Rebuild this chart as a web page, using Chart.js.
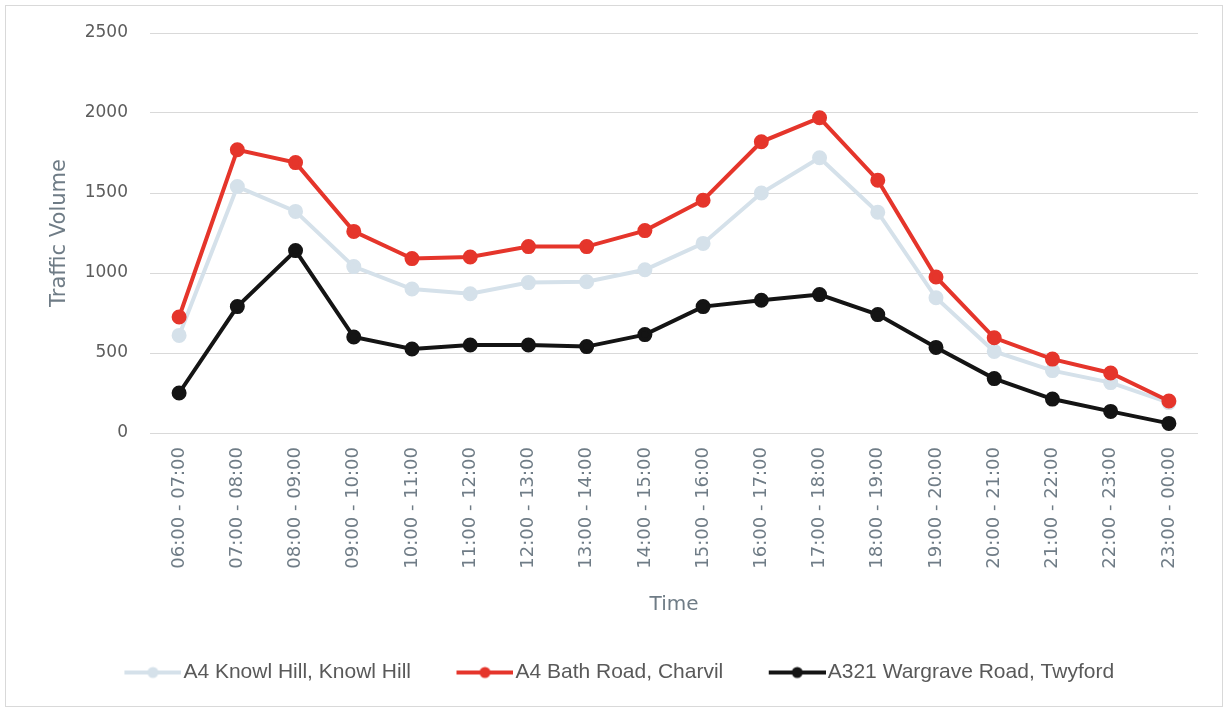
<!DOCTYPE html>
<html>
<head>
<meta charset="utf-8">
<title>Hourly traffic volume</title>
<script src="https://cdn.jsdelivr.net/npm/chart.js@4.4.1/dist/chart.umd.min.js"></script>
<style>
  html, body { margin: 0; padding: 0; background: #ffffff; overflow: hidden; }
  #wrap { position: relative; width: 1228px; height: 711px; }
  #frame { position: absolute; left: 5px; top: 5px; width: 1218px; height: 702px;
           border: 1px solid #d9d9d9; box-sizing: border-box; pointer-events: none; }
  canvas { position: absolute; left: 0; top: 0; }
</style>
</head>
<body>
<div id="wrap">
  <canvas id="chart" width="1228" height="711"></canvas>
  <div id="frame"></div>
</div>
<script>
// Hourly bands
const hours = [
  '06:00 - 07:00', '07:00 - 08:00', '08:00 - 09:00', '09:00 - 10:00',
  '10:00 - 11:00', '11:00 - 12:00', '12:00 - 13:00', '13:00 - 14:00',
  '14:00 - 15:00', '15:00 - 16:00', '16:00 - 17:00', '17:00 - 18:00',
  '18:00 - 19:00', '19:00 - 20:00', '20:00 - 21:00', '21:00 - 22:00',
  '22:00 - 23:00', '23:00 - 00:00'
];

// Vehicles per hour at each counting site
const knowlHill    = [610, 1540, 1385, 1040, 900, 870, 940, 945, 1020, 1185, 1500, 1720, 1380, 845, 510, 390, 315, 190];
const bathRoad     = [725, 1770, 1690, 1260, 1090, 1100, 1165, 1165, 1265, 1455, 1820, 1970, 1580, 975, 595, 462, 375, 200];
const wargraveRoad = [250, 790, 1140, 600, 525, 550, 550, 540, 615, 790, 830, 865, 740, 535, 340, 212, 135, 60];

const siteNames = ['A4 Knowl Hill, Knowl Hill', 'A4 Bath Road, Charvil', 'A321 Wargrave Road, Twyford'];
const siteColours = ['#d5e1ea', '#e5352b', '#141414'];

// Y axis range
const yMin = 0;
const yMax = 2500;
const yStep = 500;

const LEGEND_BOX = 84;
const LEGEND_FONT = 21;

// Legend swatch: short line with a centred marker, placed right next to the text
function legendSwatch(colour) {
  const w = LEGEND_BOX + LEGEND_FONT - 4;
  const h = 14;
  const c = document.createElement('canvas');
  c.width = w; c.height = h;
  const g = c.getContext('2d');
  const x0 = w - 57, x1 = w;
  g.strokeStyle = colour;
  g.lineWidth = 4;
  g.beginPath();
  g.moveTo(x0, h / 2);
  g.lineTo(x1, h / 2);
  g.stroke();
  g.fillStyle = colour;
  g.beginPath();
  g.arc((x0 + x1) / 2, h / 2, 5.5, 0, Math.PI * 2);
  g.fill();
  return c;
}

const series = [knowlHill, bathRoad, wargraveRoad];
const datasets = series.map((values, i) => ({
  label: siteNames[i],
  data: values,
  borderColor: siteColours[i],
  backgroundColor: siteColours[i],
  pointBackgroundColor: siteColours[i],
  pointBorderColor: siteColours[i],
  borderWidth: 4,
  pointRadius: 5.5,
  pointHoverRadius: 5.5,
  tension: 0,
  order: 3 - i,
  pointStyle: 'circle',
  legendSwatch: legendSwatch(siteColours[i])
}));

const tickColour = '#5c5c5c';
const labelColour = '#6f7c86';

new Chart(document.getElementById('chart'), {
  type: 'line',
  data: { labels: hours, datasets: datasets },
  options: {
    responsive: false,
    animation: false,
    layout: { padding: { left: 5, right: 30, top: 33, bottom: 18 } },
    plugins: {
      tooltip: { enabled: false },
      legend: {
        position: 'bottom',
        labels: {
          usePointStyle: true,
          pointStyleWidth: LEGEND_BOX,
          boxHeight: 14,
          padding: 10,
          color: '#595959',
          font: { family: '"Liberation Sans", Arial, sans-serif', size: LEGEND_FONT },
          sort: (a, b) => a.datasetIndex - b.datasetIndex,
          generateLabels: (chart) => chart.data.datasets.map((ds, i) => ({
            text: ds.label,
            datasetIndex: i,
            pointStyle: ds.legendSwatch,
            fillStyle: ds.borderColor,
            strokeStyle: ds.borderColor,
            lineWidth: 0,
            hidden: false,
            fontColor: '#595959'
          }))
        }
      }
    },
    scales: {
      x: {
        offset: true,
        grid: { display: false, drawTicks: false },
        border: { display: false },
        ticks: {
          autoSkip: false,
          maxRotation: 90,
          minRotation: 90,
          padding: 14,
          color: labelColour,
          font: { family: '"DejaVu Sans", sans-serif', size: 18 }
        },
        title: {
          display: true,
          text: 'Time',
          color: labelColour,
          font: { family: '"DejaVu Sans", sans-serif', size: 20 },
          padding: { top: 0, bottom: 35 }
        },
        afterFit: (scale) => { scale.height = 219; }
      },
      y: {
        min: yMin,
        max: yMax,
        grid: { color: '#d9d9d9', lineWidth: 1, drawTicks: false },
        border: { display: false },
        ticks: {
          stepSize: yStep,
          padding: 22,
          color: tickColour,
          font: { family: '"DejaVu Sans", sans-serif', size: 17 },
          callback: (value) => String(value)
        },
        title: {
          display: true,
          text: 'Traffic Volume',
          color: labelColour,
          font: { family: '"DejaVu Sans", sans-serif', size: 21 },
          padding: { top: 42, bottom: 0 }
        },
        afterFit: (scale) => { scale.width = 145; }
      }
    }
  }
});
</script>
</body>
</html>
